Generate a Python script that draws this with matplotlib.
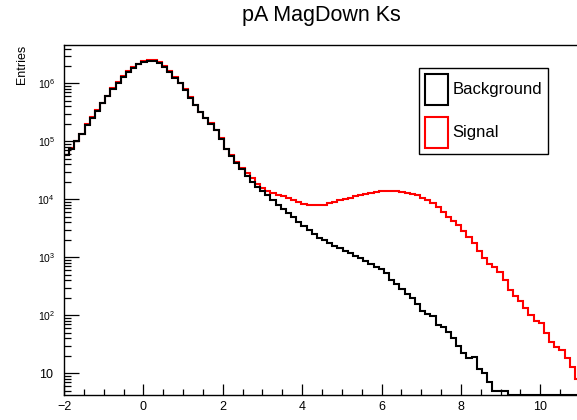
import numpy as np
import matplotlib
matplotlib.use("Agg")
import matplotlib.pyplot as plt
from matplotlib.patches import Patch
from matplotlib.ticker import FixedLocator, MultipleLocator, FuncFormatter, NullFormatter

plt.rcParams["font.family"] = ["Liberation Sans", "DejaVu Sans"]
plt.rcParams["mathtext.fontset"] = "custom"
plt.rcParams["mathtext.rm"] = "Liberation Sans"
plt.rcParams["mathtext.it"] = "Liberation Sans:italic"
plt.rcParams["mathtext.bf"] = "Liberation Sans:bold"

# histogram binning: 100 bins from -2 to 11
x_min, x_max, n_bins = -2.0, 11.0, 100

# Background entries per bin
background = [
    5.75e4, 7.41e4, 1.0e5, 1.32e5, 1.91e5, 2.57e5, 3.39e5, 4.52e5, 5.96e5, 8.04e5,
    1.035e6, 1.29e6, 1.58e6, 1.86e6, 2.14e6, 2.34e6, 2.45e6, 2.43e6, 2.24e6, 1.91e6,
    1.58e6, 1.26e6, 1.0e6, 7.67e5, 5.62e5, 4.17e5, 3.16e5, 2.51e5, 2.0e5, 1.55e5,
    1.10e5, 7.24e4, 5.50e4, 4.27e4, 3.39e4, 2.51e4, 2.0e4, 1.66e4, 1.41e4, 1.17e4,
    9770, 8130, 6920, 5890, 4900, 4070, 3470, 2950, 2510, 2190,
    1950, 1740, 1580, 1430, 1290, 1170, 1060, 955, 851, 776,
    692, 631, 525, 398, 339, 282, 229, 200, 155, 120,
    107, 98, 69, 63, 52, 40, 30, 22, 18, 19,
    12, 10, 7, 5, 5, 5, 0, 0, 0, 0,
    0, 0, 0, 0, 0, 0, 0, 0, 0, 0,
]

# Signal entries per bin
signal = [
    5.9e4, 7.6e4, 1.03e5, 1.36e5, 1.96e5, 2.64e5, 3.48e5, 4.64e5, 6.12e5, 8.25e5,
    1.06e6, 1.32e6, 1.62e6, 1.91e6, 2.19e6, 2.40e6, 2.51e6, 2.49e6, 2.30e6, 1.96e6,
    1.62e6, 1.29e6, 1.03e6, 7.88e5, 5.77e5, 4.28e5, 3.25e5, 2.58e5, 2.06e5, 1.60e5,
    1.14e5, 7.5e4, 5.72e4, 4.48e4, 3.47e4, 2.82e4, 2.29e4, 1.82e4, 1.58e4, 1.41e4,
    1.29e4, 1.20e4, 1.12e4, 1.05e4, 9550, 8910, 8320, 7940, 7940, 7940,
    8130, 8510, 9120, 9770, 10230, 10720, 11220, 11750, 12590, 12880,
    13490, 13800, 13800, 13800, 13800, 13490, 12880, 12300, 11750, 10720,
    9770, 8710, 7240, 6030, 5010, 4270, 3550, 2880, 2240, 1740,
    1260, 955, 759, 676, 550, 398, 275, 214, 174, 135,
    102, 79, 74, 50, 35, 28, 25, 18, 13, 8,
]

series_labels = ["Background", "Signal"]
series_colors = ["black", "red"]
y_lo, y_hi = 4.2, 4.6e6
y_decades = [1, 2, 3, 4, 5, 6]

edges = np.linspace(x_min, x_max, n_bins + 1)

fig = plt.figure(figsize=(5.77, 4.2), dpi=100)
ax = fig.add_axes([64 / 577, 25 / 420, 516 / 577, 350 / 420])

# empty bins are drawn along the bottom of the frame, as ROOT does
ax.stairs(np.maximum(signal, y_lo), edges, color="red", lw=1.5, baseline=None)
ax.stairs(np.maximum(background, y_lo), edges, color="black", lw=1.5, baseline=None)

ax.set_yscale("log")
ax.set_xlim(x_min, x_max)
ax.set_ylim(y_lo, y_hi)

ax.xaxis.set_major_locator(MultipleLocator(2))
ax.xaxis.set_minor_locator(MultipleLocator(0.5))
major_y = [10.0 ** e for e in y_decades]
minor_y = [m * 10.0 ** e for e in [0] + y_decades for m in range(2, 10)]
minor_y = [v for v in minor_y if y_lo <= v <= y_hi]
ax.yaxis.set_major_locator(FixedLocator(major_y))
ax.yaxis.set_minor_locator(FixedLocator(minor_y))
ax.yaxis.set_minor_formatter(NullFormatter())


def log_label(v, pos):
    e = int(round(np.log10(v)))
    if e == 1:
        return "10"
    return r"$10^{%d}$" % e


ax.yaxis.set_major_formatter(FuncFormatter(log_label))
ax.xaxis.set_major_formatter(FuncFormatter(lambda v, p: "%d" % v if v >= 0 else "\u2212%d" % -v))

ax.tick_params(axis="x", which="major", direction="in", length=8, width=0.9, labelsize=9, pad=4.5)
ax.tick_params(axis="x", which="minor", direction="in", length=4.3, width=0.9)
ax.tick_params(axis="y", which="major", direction="in", length=10.5, width=0.9, labelsize=7.5, pad=6.5)
ax.tick_params(axis="y", which="minor", direction="in", length=5, width=0.9)

for side in ["left", "bottom", "top"]:
    ax.spines[side].set_linewidth(1.0)
ax.spines["right"].set_visible(False)

fig.text(321 / 577, 1 - 16 / 420, "pA MagDown Ks", ha="center", va="center", fontsize=15.5)
fig.text(22 / 577, 1 - 45 / 420, "Entries", rotation=90, ha="center", va="top", fontsize=9)

handles = [Patch(facecolor="none", edgecolor=c, lw=1.5) for c in series_colors]
leg = ax.legend(handles, series_labels, loc="upper right",
                bbox_to_anchor=(548 / 577, 1 - 68 / 420), bbox_transform=fig.transFigure,
                borderaxespad=0, fontsize=12, fancybox=False, framealpha=1,
                edgecolor="black", handlelength=1.38, handleheight=2.48,
                labelspacing=0.72, borderpad=0.35, handletextpad=0.3)
leg.get_frame().set_linewidth(1.0)

# the plain "10" label is drawn a bit larger than the powers
fig.canvas.draw()
for tick in ax.yaxis.get_major_ticks():
    if abs(tick.get_loc() - 10.0) < 1e-6:
        tick.label1.set_fontsize(9)
        tick.label1.set_x(-0.004)

fig.savefig("out.png", dpi=100)
